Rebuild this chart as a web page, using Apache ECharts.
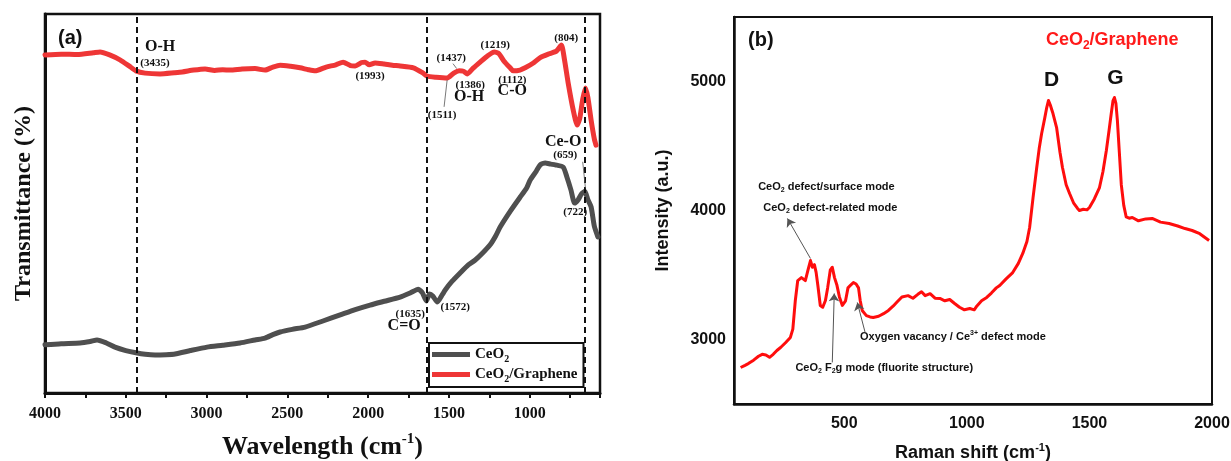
<!DOCTYPE html>
<html>
<head>
<meta charset="utf-8">
<script src="https://cdn.jsdelivr.net/npm/echarts@6/dist/echarts.min.js"></script>
<style>
  html, body { margin: 0; padding: 0; background: #fff; }
  #chart { width: 1231px; height: 461px; }
</style>
</head>
<body>
<div id="chart"></div>
<script>
// (a) FTIR: [wavenumber, transmittance (arb.)]
const ftirCeO2 = [
  [4000, 12.7], [3900, 13.0], [3783, 13.2], [3720, 13.6], [3678, 14.0], [3620, 13.2],
  [3567, 12.1], [3500, 11.2], [3437, 10.6], [3380, 10.2], [3319, 10.0], [3250, 10.1],
  [3195, 10.3], [3100, 11.2], [2997, 12.1], [2900, 12.6], [2793, 13.2], [2700, 14.0],
  [2638, 14.5], [2590, 15.4], [2545, 16.1], [2470, 16.8], [2390, 17.4], [2280, 19.0],
  [2173, 20.6], [2080, 22.0], [1988, 23.2], [1900, 24.2], [1802, 25.3], [1740, 26.4],
  [1690, 27.4], [1665, 26.5], [1640, 24.3], [1620, 26.1], [1600, 25.6], [1572, 24.0],
  [1540, 26.0], [1523, 27.2], [1480, 29.5], [1430, 31.7], [1380, 33.8], [1337, 35.1],
  [1290, 37.0], [1245, 39.1], [1210, 41.5], [1183, 43.8], [1120, 48.0], [1059, 51.7],
  [1020, 54.0], [997, 56.2], [960, 58.5], [935, 60.2], [904, 60.7], [870, 60.4],
  [842, 60.2], [793, 59.6], [770, 57.0], [745, 53.6], [722, 50.1], [700, 51.0],
  [680, 52.5], [659, 53.2], [640, 51.0], [620, 49.1], [600, 44.0], [578, 41.2]
];
const ftirGraphene = [
  [4000, 89.2], [3900, 89.4], [3800, 89.3], [3700, 89.8], [3659, 90.0], [3600, 89.2],
  [3536, 87.9], [3480, 86.3], [3437, 85.0], [3380, 84.4], [3288, 84.2], [3200, 84.5],
  [3150, 84.7], [3080, 85.2], [3009, 85.5], [2950, 85.1], [2900, 85.3], [2854, 85.2],
  [2780, 85.5], [2700, 85.6], [2638, 85.2], [2590, 86.0], [2545, 86.5], [2480, 86.2],
  [2421, 85.8], [2370, 85.3], [2328, 85.0], [2260, 86.0], [2200, 86.6], [2155, 87.3],
  [2110, 86.4], [2080, 86.3], [2040, 87.2], [2019, 87.3], [1993, 86.6], [1957, 87.1],
  [1900, 86.8], [1850, 86.5], [1802, 86.3], [1720, 85.8], [1660, 84.4], [1635, 83.6],
  [1580, 83.3], [1511, 83.1], [1470, 84.4], [1437, 85.0], [1410, 84.9], [1386, 84.2],
  [1350, 85.7], [1307, 87.3], [1260, 89.0], [1219, 90.0], [1190, 89.5], [1160, 87.6],
  [1121, 85.8], [1102, 85.0], [1060, 85.2], [1028, 85.8], [980, 87.0], [935, 88.5],
  [880, 89.5], [835, 90.2], [804, 91.8], [785, 88.0], [762, 81.8], [731, 74.7],
  [706, 70.7], [690, 72.5], [672, 77.5], [655, 80.5], [640, 78.0], [620, 72.0],
  [600, 67.0], [590, 65.4]
];
const ftirTicks = [4000, 3500, 3000, 2500, 2000, 1500, 1000];
const ftirMarkers = [3435, 1635, 659];
const ftirPeakLabels = [
  ['(3435)', 3319, 87.1], ['(1993)', 1988, 83.6], ['(1437)', 1486, 88.4],
  ['(1386)', 1368, 81.3], ['(1219)', 1214, 91.8], ['(1112)', 1108, 82.6],
  ['(804)', 774, 93.7], ['(1511)', 1542, 73.4], ['(659)', 780, 62.8],
  ['(722)', 718, 47.8], ['(1572)', 1461, 22.7], ['(1635)', 1740, 20.8]
];
const ftirBondLabels = [
  ['O-H', 3288, 91.3], ['O-H', 1375, 78.1], ['C-O', 1108, 79.7],
  ['Ce-O', 793, 66.2], ['C=O', 1777, 17.7]
];
const ftirLeaders = [
  [[1511, 82.6], [1530, 75.5]],
  [[1475, 86.9], [1452, 85.6]],
  [[672, 61.0], [655, 54.0]]
];

// (b) Raman: [shift, intensity]
const ramanSpectrum = [
  [77, 2783], [95, 2800], [110, 2815], [130, 2840], [150, 2870], [165, 2885], [180, 2880],
  [195, 2862], [210, 2885], [225, 2915], [240, 2938], [260, 2975], [280, 3016], [290, 3080],
  [300, 3300], [310, 3457], [325, 3480], [341, 3457], [352, 3540], [362, 3612], [370, 3560],
  [378, 3580], [385, 3520], [392, 3420], [402, 3264], [412, 3250], [423, 3302], [432, 3400],
  [443, 3540], [451, 3560], [460, 3480], [470, 3420], [480, 3330], [492, 3264], [505, 3300],
  [515, 3400], [525, 3420], [537, 3442], [548, 3430], [558, 3400], [565, 3300], [573, 3225],
  [590, 3185], [605, 3175], [618, 3171], [640, 3180], [660, 3200], [680, 3225], [700, 3260],
  [715, 3290], [735, 3330], [760, 3340], [780, 3320], [800, 3350], [815, 3370], [830, 3340],
  [850, 3355], [870, 3320], [890, 3318], [910, 3300], [930, 3310], [950, 3279], [970, 3250],
  [990, 3230], [1012, 3240], [1030, 3230], [1041, 3260], [1060, 3300], [1081, 3326],
  [1100, 3360], [1120, 3400], [1134, 3419], [1160, 3470], [1187, 3519], [1210, 3590],
  [1228, 3667], [1245, 3760], [1256, 3868], [1270, 4100], [1285, 4333], [1295, 4480],
  [1305, 4597], [1318, 4720], [1326, 4800], [1333, 4853], [1340, 4820], [1350, 4760],
  [1366, 4643], [1380, 4450], [1390, 4333], [1405, 4200], [1419, 4132], [1435, 4060],
  [1450, 4020], [1459, 4000], [1475, 4010], [1490, 4005], [1500, 4023], [1520, 4090],
  [1541, 4178], [1555, 4300], [1569, 4465], [1580, 4620], [1589, 4752], [1596, 4850],
  [1602, 4876], [1608, 4830], [1614, 4698], [1622, 4450], [1630, 4200], [1640, 4040],
  [1650, 3950], [1662, 3940], [1675, 3946], [1700, 3920], [1730, 3935], [1756, 3938],
  [1790, 3910], [1825, 3899], [1860, 3880], [1890, 3860], [1919, 3845], [1950, 3820],
  [1988, 3767]
];
const ramanXTicks = [500, 1000, 1500, 2000];
const ramanYTicks = [3000, 4000, 5000];
const ramanLabels = [
  ['{t|CeO}{s|2}{t| defect/surface mode}', 427, 4186],
  ['{t|CeO}{s|2}{t| defect-related mode}', 443, 4023],
  ['{t|Oxygen vacancy / Ce}{p|3+}{t| defect mode}', 943, 3016],
  ['{t|CeO}{s|2}{t| F}{s|2}{t|g mode (fluorite structure)}', 663, 2783]
];
const ramanPeaks = [['D', 1346, 5008], ['G', 1606, 5023]];
const ramanArrows = [
  [[362, 3628], [268, 3938]],
  [[585, 3054], [553, 3287]],
  [[451, 2822], [459, 3357]]
];

const serif = '"Liberation Serif", "Times New Roman", serif';
const sans = '"Liberation Sans", Arial, sans-serif';
const ink = '#111';

const chart = echarts.init(document.getElementById('chart'));

const labelPoint = (text, x, y, style) => ({
  value: [x, y],
  label: Object.assign({ show: true, position: 'inside', formatter: text, color: ink, opacity: 1 }, style)
});

const subRich = (size, font, color) => ({
  t: { fontSize: size, fontFamily: font, fontWeight: 'bold', color: color || ink, lineHeight: size + 4, verticalAlign: 'middle' },
  s: { fontSize: Math.round(size * 0.65), fontFamily: font, fontWeight: 'bold', color: color || ink, lineHeight: size + 4, verticalAlign: 'bottom' },
  p: { fontSize: Math.round(size * 0.65), fontFamily: font, fontWeight: 'bold', color: color || ink, lineHeight: size + 4, verticalAlign: 'top' }
});

const option = {
  animation: false,
  backgroundColor: '#fff',
  title: [
    { text: '(a)', left: 58, top: 28, padding: 0, textStyle: { fontFamily: sans, fontWeight: 'bold', fontSize: 20, color: ink } },
    { text: '(b)', left: 748, top: 30, padding: 0, textStyle: { fontFamily: sans, fontWeight: 'bold', fontSize: 20, color: ink } }
  ],
  legend: {
    data: ['CeO2', 'CeO2/Graphene'],
    orient: 'vertical',
    left: 429,
    top: 343,
    icon: 'rect',
    itemWidth: 38,
    itemHeight: 5,
    itemGap: 3,
    backgroundColor: '#fff',
    borderColor: ink,
    borderWidth: 2,
    padding: [4, 6, 3, 3],
    formatter: name => name === 'CeO2' ? '{t|CeO}{s|2}' : '{t|CeO}{s|2}{t|/Graphene}',
    textStyle: { color: ink, rich: subRich(15, serif) }
  },
  grid: [
    { left: 45, top: 14, width: 555, height: 379, outerBoundsMode: 'none', containLabel: false, show: true, borderColor: ink, borderWidth: 2.5 },
    { left: 734, top: 17, width: 478, height: 387, outerBoundsMode: 'none', containLabel: false, show: true, borderColor: ink, borderWidth: 2 }
  ],
  xAxis: [
    {
      type: 'value', gridIndex: 0, inverse: true, min: 565, max: 4000, splitNumber: 7,
      axisLine: { onZero: false, lineStyle: { color: ink, width: 3 } },
      axisTick: { show: true, length: 5, lineStyle: { color: ink, width: 2 } },
      minorTick: { show: true, splitNumber: 2, length: 5, lineStyle: { color: ink, width: 2 } },
      splitLine: { show: false },
      axisLabel: {
        formatter: v => ftirTicks.includes(v) ? String(v) : '',
        fontFamily: serif, fontWeight: 'bold', fontSize: 16, color: ink, margin: 13
      },
      name: '{n|Wavelength (cm}{sup|-1}{n|)}',
      nameLocation: 'middle',
      nameGap: 39,
      nameTextStyle: {
        rich: {
          n: { fontFamily: serif, fontWeight: 'bold', fontSize: 26, color: ink, lineHeight: 30, verticalAlign: 'middle' },
          sup: { fontFamily: serif, fontWeight: 'bold', fontSize: 15, color: ink, lineHeight: 30, verticalAlign: 'top' }
        }
      }
    },
    {
      type: 'value', gridIndex: 1, min: 50, max: 2000, splitNumber: 4,
      axisLine: { onZero: false, lineStyle: { color: ink, width: 2.5 } },
      axisTick: { show: false },
      splitLine: { show: false },
      axisLabel: {
        formatter: v => ramanXTicks.includes(v) ? String(v) : '',
        fontFamily: sans, fontWeight: 'bold', fontSize: 16, color: ink, margin: 12
      },
      name: '{n|Raman shift (cm}{sup|-1}{n|)}',
      nameLocation: 'middle',
      nameGap: 38,
      nameTextStyle: {
        rich: {
          n: { fontFamily: sans, fontWeight: 'bold', fontSize: 18, color: ink, lineHeight: 22, verticalAlign: 'middle' },
          sup: { fontFamily: sans, fontWeight: 'bold', fontSize: 11, color: ink, lineHeight: 22, verticalAlign: 'top' }
        }
      }
    }
  ],
  yAxis: [
    {
      type: 'value', gridIndex: 0, min: 0, max: 100,
      axisLine: { show: true, onZero: false, lineStyle: { color: ink, width: 3 } },
      axisTick: { show: false },
      axisLabel: { show: false },
      splitLine: { show: false },
      name: 'Transmittance (%)',
      nameLocation: 'middle',
      nameGap: 9,
      nameTextStyle: { fontFamily: serif, fontWeight: 'bold', fontSize: 24, color: ink }
    },
    {
      type: 'value', gridIndex: 1, min: 2500, max: 5500, splitNumber: 3,
      axisLine: { show: true, onZero: false, lineStyle: { color: ink, width: 2.5 } },
      axisTick: { show: false },
      splitLine: { show: false },
      axisLabel: {
        formatter: v => ramanYTicks.includes(v) ? String(v) : '',
        fontFamily: sans, fontWeight: 'bold', fontSize: 16, color: ink, margin: 8
      },
      name: 'Intensity (a.u.)',
      nameLocation: 'middle',
      nameGap: 62,
      nameTextStyle: { fontFamily: sans, fontWeight: 'bold', fontSize: 18, color: ink }
    }
  ],
  series: [
    {
      name: 'CeO2', type: 'line', xAxisIndex: 0, yAxisIndex: 0,
      data: ftirCeO2, showSymbol: false, smooth: 0.2,
      color: '#4f4f4f',
      lineStyle: { width: 5, color: '#4f4f4f', cap: 'round', join: 'round' },
      markLine: {
        silent: true, symbol: 'none', label: { show: false },
        lineStyle: { type: [6, 4], width: 2, color: ink },
        data: ftirMarkers.map(v => ({ xAxis: v }))
      }
    },
    {
      name: 'CeO2/Graphene', type: 'line', xAxisIndex: 0, yAxisIndex: 0,
      data: ftirGraphene, showSymbol: false, smooth: 0.2,
      color: '#ee3636',
      lineStyle: { width: 5, color: '#ee3636', cap: 'round', join: 'round' }
    },
    {
      type: 'scatter', xAxisIndex: 0, yAxisIndex: 0, symbolSize: 1, silent: true,
      itemStyle: { color: '#fff', opacity: 1 },
      data: ftirPeakLabels.map(([t, x, y]) => labelPoint(t, x, y, { fontFamily: serif, fontWeight: 'bold', fontSize: 11 }))
        .concat(ftirBondLabels.map(([t, x, y]) => labelPoint(t, x, y, { fontFamily: serif, fontWeight: 'bold', fontSize: 16 }))),
      markLine: {
        silent: true, symbol: 'none', label: { show: false },
        lineStyle: { type: 'solid', width: 0.8, color: '#555' },
        data: ftirLeaders.map(([a, b]) => [{ coord: a }, { coord: b }])
      }
    },
    {
      name: 'Raman', type: 'line', xAxisIndex: 1, yAxisIndex: 1,
      data: ramanSpectrum, showSymbol: false,
      lineStyle: { width: 3, color: '#ff0d0d', join: 'round' }
    },
    {
      type: 'scatter', xAxisIndex: 1, yAxisIndex: 1, symbolSize: 1, silent: true,
      itemStyle: { color: '#fff', opacity: 1 },
      data: ramanLabels.map(([t, x, y]) => labelPoint(t, x, y, { rich: subRich(11, sans) }))
        .concat(ramanPeaks.map(([t, x, y]) => labelPoint(t, x, y, { fontFamily: sans, fontWeight: 'bold', fontSize: 21 })))
        .concat([labelPoint('{t|CeO}{s|2}{t|/Graphene}', 1593, 5318, {
          rich: {
            t: { fontSize: 18, fontFamily: sans, fontWeight: 'bold', color: '#ff1a1a', lineHeight: 22, verticalAlign: 'middle' },
            s: { fontSize: 12, fontFamily: sans, fontWeight: 'bold', color: '#ff1a1a', lineHeight: 22, verticalAlign: 'bottom' }
          }
        })]),
      markLine: {
        silent: true, symbol: ['none', 'arrow'], symbolSize: 8, label: { show: false },
        lineStyle: { type: 'solid', width: 1, color: '#555' },
        data: ramanArrows.map(([a, b]) => [{ coord: a }, { coord: b }])
      }
    }
  ]
};

chart.setOption(option);
</script>
</body>
</html>
